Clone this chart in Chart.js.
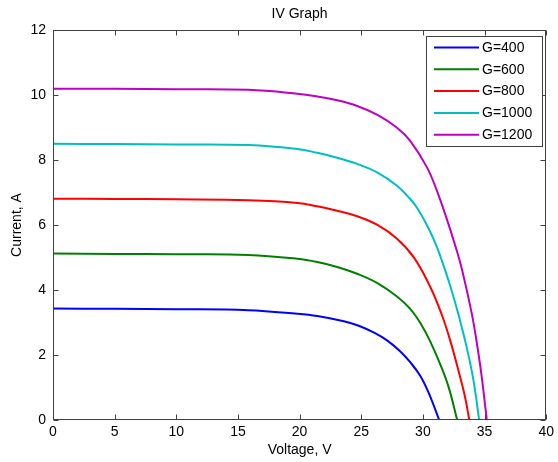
<!DOCTYPE html>
<html>
<head>
<meta charset="utf-8">
<script src="https://cdn.jsdelivr.net/npm/chart.js@4.4.1/dist/chart.umd.min.js"></script>
<style>
  html, body { margin: 0; padding: 0; background: #ffffff; }
  canvas { display: block; }
</style>
</head>
<body>
<canvas id="c" width="558" height="462"></canvas>
<script>
// ---- Data ----
const labels = ["G=400", "G=600", "G=800", "G=1000", "G=1200"];
const colors = ["#0000ff", "#008000", "#ff0000", "#00bfbf", "#bf00bf"];

const v400 = [0, 5, 10, 15.84, 19.82, 21.43, 23.59, 24.8, 26.08, 27.09, 28.17, 28.97, 29.78, 30.46, 31.32];
const i400 = [3.43, 3.42, 3.41, 3.38, 3.27, 3.20, 3.04, 2.90, 2.68, 2.45, 2.11, 1.78, 1.36, 0.84, 0];

const v600 = [0, 5, 10, 15.84, 19.82, 21.43, 23.05, 24.67, 26.28, 27.90, 28.97, 29.78, 30.59, 31.40, 32.08, 32.78];
const i600 = [5.12, 5.11, 5.10, 5.08, 4.96, 4.86, 4.71, 4.50, 4.22, 3.80, 3.42, 2.99, 2.42, 1.72, 1.02, 0];

const v800 = [0, 5, 10, 15.84, 19.82, 21.43, 23.05, 24.67, 26.28, 27.90, 29.25, 30.59, 31.54, 32.21, 32.88, 33.42, 33.76];
const i800 = [6.81, 6.80, 6.79, 6.76, 6.68, 6.575, 6.44, 6.27, 6.01, 5.58, 5.01, 4.10, 3.23, 2.45, 1.52, 0.70, 0];

const v1000 = [0, 5, 10, 15.84, 19.82, 21.43, 23.05, 24.67, 26.28, 27.90, 28.97, 29.52, 30.32, 31.13, 31.80, 32.34, 32.88, 33.56, 34.10, 34.56];
const i1000 = [8.50, 8.49, 8.48, 8.46, 8.34, 8.22, 8.07, 7.88, 7.62, 7.21, 6.80, 6.53, 6.00, 5.33, 4.61, 3.97, 3.25, 2.22, 1.22, 0];

const v1200 = [0, 5, 10, 15.84, 19.82, 21.43, 23.05, 24.67, 26.28, 27.90, 28.97, 30.32, 31.13, 31.94, 32.61, 33.15, 33.96, 34.36, 34.77, 35.18];
const i1200 = [10.19, 10.19, 10.18, 10.16, 10.04, 9.955, 9.837, 9.663, 9.395, 8.993, 8.59, 7.78, 7.06, 6.18, 5.38, 4.66, 3.28, 2.40, 1.33, 0];

const voltages = [v400, v600, v800, v1000, v1200];
const currents = [i400, i600, i800, i1000, i1200];

const xTicks = [0, 5, 10, 15, 20, 25, 30, 35, 40];
const yTicks = [0, 2, 4, 6, 8, 10, 12];

const titleText = "IV Graph";
const xLabel = "Voltage, V";
const yLabel = "Current, A";

// ---- Styles ----
const FONT = "'Liberation Sans', Arial, Helvetica, sans-serif";
const FS = 14;
const AXIS_COLOR = "#404040";
const TEXT_COLOR = "#000000";

const datasets = labels.map((lab, k) => ({
  label: lab,
  data: voltages[k].map((v, j) => ({ x: v, y: currents[k][j] })),
  borderColor: colors[k],
  backgroundColor: colors[k],
  borderWidth: 2,
  pointRadius: 0,
  fill: false,
  tension: 0.4
}));

const framePlugin = {
  id: 'frame',
  afterDraw(chart) {
    const ctx = chart.ctx;
    const a = chart.chartArea;
    const xs = chart.scales.x, ys = chart.scales.y;
    ctx.save();
    ctx.strokeStyle = AXIS_COLOR;
    ctx.lineWidth = 1;
    const L = Math.round(a.left) + 0.5, R = Math.round(a.right) - 0.5;
    const T = Math.round(a.top) + 0.5, B = Math.round(a.bottom) - 0.5;
    ctx.strokeRect(L, T, R - L, B - T);
    const tl = 5;
    ctx.beginPath();
    xTicks.forEach(t => {
      const px = Math.round(xs.getPixelForValue(t)) + 0.5;
      ctx.moveTo(px, B); ctx.lineTo(px, B - tl);
      ctx.moveTo(px, T); ctx.lineTo(px, T + tl);
    });
    yTicks.forEach(t => {
      const py = Math.round(ys.getPixelForValue(t)) + 0.5;
      ctx.moveTo(L, py); ctx.lineTo(L + tl, py);
      ctx.moveTo(R, py); ctx.lineTo(R - tl, py);
    });
    ctx.stroke();

    // legend box
    const bx = 426.5, by = 36.5, bw = 116, bh = 110;
    ctx.fillStyle = "#ffffff";
    ctx.fillRect(bx, by, bw, bh);
    ctx.strokeStyle = AXIS_COLOR;
    ctx.strokeRect(bx, by, bw, bh);
    ctx.font = FS + "px " + FONT;
    ctx.textBaseline = "middle";
    ctx.textAlign = "left";
    chart.data.datasets.forEach((ds, k) => {
      const yy = 47.5 + k * 21.8;
      ctx.strokeStyle = ds.borderColor;
      ctx.lineWidth = 2;
      ctx.beginPath();
      ctx.moveTo(434, yy); ctx.lineTo(479, yy);
      ctx.stroke();
      ctx.fillStyle = TEXT_COLOR;
      ctx.fillText(ds.label, 482, yy + 0.5);
    });

    ctx.fillStyle = TEXT_COLOR;
    ctx.textAlign = "center";
    ctx.textBaseline = "middle";
    ctx.fillText(titleText, (a.left + a.right) / 2, 14);
    ctx.fillText(xLabel, (a.left + a.right) / 2, 450);
    ctx.translate(17, (a.top + a.bottom) / 2);
    ctx.rotate(-Math.PI / 2);
    ctx.fillText(yLabel, 0, 0);
    ctx.restore();
  }
};

new Chart(document.getElementById('c'), {
  type: 'line',
  data: { datasets },
  options: {
    responsive: false,
    animation: false,
    layout: { padding: { top: 30, right: 10, left: 0, bottom: 0 } },
    plugins: {
      legend: { display: false },
      title: { display: false },
      tooltip: { enabled: false }
    },
    scales: {
      x: {
        type: 'linear', min: 0, max: 40,
        afterBuildTicks: s => { s.ticks = xTicks.map(v => ({ value: v })); },
        ticks: { font: { family: FONT, size: FS }, color: TEXT_COLOR, padding: 4, maxRotation: 0, autoSkip: false },
        grid: { display: false, drawTicks: false },
        border: { display: false },
        afterFit: s => { s.height = 42; }
      },
      y: {
        type: 'linear', min: 0, max: 12,
        afterBuildTicks: s => { s.ticks = yTicks.map(v => ({ value: v })); },
        ticks: { font: { family: FONT, size: FS }, color: TEXT_COLOR, padding: 7, autoSkip: false },
        grid: { display: false, drawTicks: false },
        border: { display: false },
        afterFit: s => { s.width = 53; }
      }
    }
  },
  plugins: [framePlugin]
});
</script>
</body>
</html>
